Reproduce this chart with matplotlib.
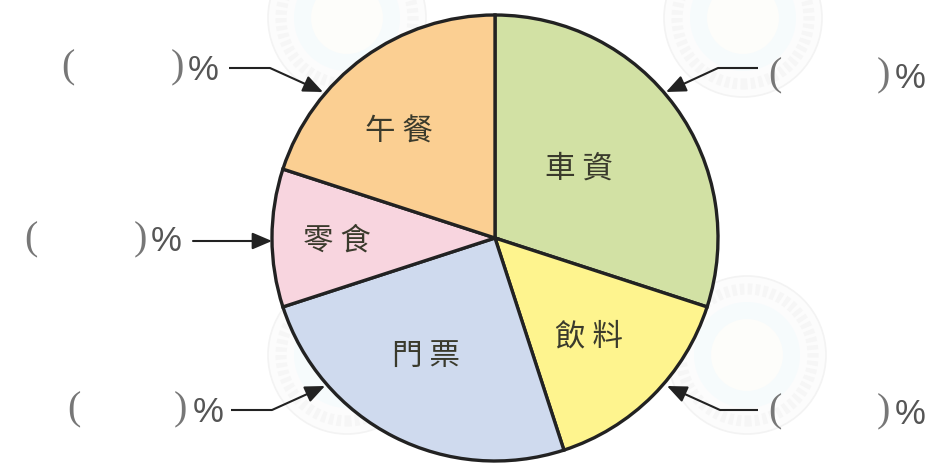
import matplotlib
matplotlib.use('Agg')
import matplotlib.pyplot as plt
from matplotlib.patches import Circle

W, H = 929, 463

# pie data, clockwise from the top
categories = ['車資', '飲料', '門票', '零食', '午餐']
shares = [30, 15, 25, 10, 20]
colors = ['#D2E1A4', '#FEF48E', '#CFDAEE', '#F8D5DF', '#FBCF92']

label_x = [579, 589, 426, 337, 399]
label_y = [169, 337, 356, 241, 132]

# blank answer labels: "(" x, ")" x, "%" x, y
blank_open_x = [68, 31, 74, 775, 775]
blank_close_x = [177, 140, 180, 883, 883]
blank_pct_x = [203, 166, 208, 910, 910]
blank_y = [68, 240, 410, 76, 412]

# leader lines, last segment gets the arrow head
leaders = [
    [(229, 68), (270, 68), (323, 92)],
    [(193, 241), (272, 241)],
    [(231, 410), (272, 410), (325, 386)],
    [(758, 68), (718, 68), (666, 92)],
    [(758, 410), (720, 410), (667, 386)],
]

# faint seals behind the chart
seal_x = [347, 743, 347, 747]
seal_y = [18, 18, 355, 355]


def flip(y):
    return H - y


fig = plt.figure(figsize=(W / 100, H / 100), dpi=100)
ax = fig.add_axes([0, 0, 1, 1])

for sx, sy in zip(seal_x, seal_y):
    ax.add_patch(Circle((sx, flip(sy)), 79, fc='#FCFCFC', ec='#F3F3F3', lw=1.2, zorder=1))
    ax.add_patch(Circle((sx, flip(sy)), 66, fc='none', ec='#F6F6F6', lw=8, ls=(0, (0.4, 0.3)), zorder=1))
    ax.add_patch(Circle((sx, flip(sy)), 53, fc='#F6FBFC', ec='none', zorder=1))
    ax.add_patch(Circle((sx, flip(sy)), 36, fc='#FDFDFA', ec='none', zorder=1))

ax.pie(shares, colors=colors, startangle=90, counterclock=False,
       center=(495, flip(238)), radius=223,
       wedgeprops={'edgecolor': '#222222', 'linewidth': 2.4, 'zorder': 3})

for name, x, y in zip(categories, label_x, label_y):
    ax.text(x, flip(y), name[0] + ' ' + name[1], fontsize=22, color='#3A3A2C',
            family=['Noto Sans CJK TC', 'DejaVu Sans'], ha='center', va='center', zorder=5)

for xo, xc, xp, y in zip(blank_open_x, blank_close_x, blank_pct_x, blank_y):
    ax.text(xo, flip(y), '(', fontsize=29, color='#777777', family='Liberation Serif',
            ha='center', va='center', zorder=5)
    ax.text(xc, flip(y), ')', fontsize=29, color='#777777', family='Liberation Serif',
            ha='center', va='center', zorder=5)
    ax.text(xp, flip(y + 2), '%', fontsize=25, color='#555555', family='Liberation Sans',
            ha='center', va='center', zorder=5)

for pts in leaders:
    xs = [p[0] for p in pts]
    ys = [flip(p[1]) for p in pts]
    ax.plot(xs[:-1], ys[:-1], color='#222222', lw=1.5, zorder=4, solid_capstyle='butt')
    ax.annotate('', xy=(xs[-1], ys[-1]), xytext=(xs[-2], ys[-2]),
                arrowprops=dict(arrowstyle='-|>,head_length=0.75,head_width=0.32',
                                color='#222222', lw=1.5, shrinkA=0, shrinkB=0,
                                mutation_scale=16),
                zorder=4)

ax.set_xlim(0, W)
ax.set_ylim(0, H)
ax.set_aspect('equal')
ax.axis('off')

fig.savefig('out.png', dpi=100, facecolor='white')
